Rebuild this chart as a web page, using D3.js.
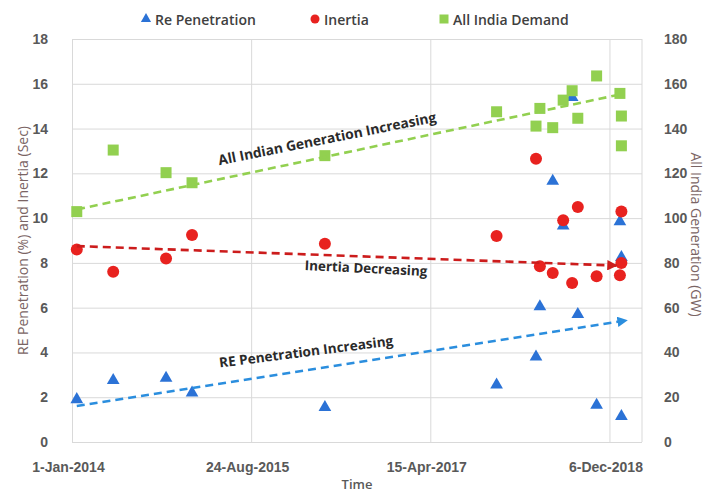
<!DOCTYPE html>
<html>
<head>
<meta charset="utf-8">
<script src="https://cdn.jsdelivr.net/npm/d3@7"></script>
<style>
  html, body { margin: 0; padding: 0; background: #ffffff; }
  svg { display: block; font-family: "Open Sans", "Noto Sans", sans-serif; }
</style>
</head>
<body>
<svg id="chart" width="707" height="494"></svg>
<script>
// Observation dates (one entry per sample)
const obsDates = [
  "2014-01-17", "2014-05-19", "2014-11-12", "2015-02-07", "2016-04-27",
  "2017-11-23", "2018-04-04", "2018-04-17", "2018-05-30", "2018-07-04",
  "2018-08-03", "2018-08-22", "2018-10-24", "2019-01-10", "2019-01-15",
  "2019-01-15"
];
// RE penetration (%) — left axis
const rePenetration = [1.9, 2.75, 2.85, 2.2, 1.55, 2.55, 3.8, 6.05, 11.65, 9.65, 15.4, 5.7, 1.65, 9.85, 8.25, 1.15];
// Inertia (sec) — left axis
const inertia = [8.6, 7.6, 8.2, 9.25, 8.85, 9.2, 12.65, 7.85, 7.55, 9.9, 7.1, 10.5, 7.4, 7.45, 8.0, 10.3];
// All India demand (GW) — right axis
const indiaDemand = [102.9, 130.4, 120.3, 115.8, 127.9, 147.5, 141.1, 149.0, 140.4, 152.7, 156.9, 144.6, 163.5, 155.7, 145.6, 132.3];

// Trend arrows: [start, end] as date/value pairs
const demandTrend  = [["2014-01-18", 103.9], ["2018-12-30", 154.9]];
const inertiaTrend = [["2014-01-17", 8.75], ["2018-12-30", 7.88]];
const reTrend      = [["2014-01-17", 1.61], ["2019-02-02", 5.43]];

// Axis ticks
const xTickDates = ["2014-01-01", "2015-08-24", "2017-04-15", "2018-12-06"];
const xDomain = ["2014-01-01", "2019-03-25"];
const leftTicks = [0, 2, 4, 6, 8, 10, 12, 14, 16, 18];
const rightTicks = [0, 20, 40, 60, 80, 100, 120, 140, 160, 180];

const seriesNames = ["Re Penetration", "Inertia", "All India Demand"];

const parse = d3.utcParse("%Y-%m-%d");
const W = 707, H = 494;
const m = { top: 39, right: 65, bottom: 52, left: 72 };
const iw = W - m.left - m.right, ih = H - m.top - m.bottom;

const colors = {
  re: "#2b72d6", reLine: "#2b8ede",
  inertia: "#e8221f", inertiaLine: "#cc1c1c",
  demand: "#92d050", demandLine: "#92d050",
  grid: "#d9d9d9", tick: "#595959", title: "#7a6464", note: "#2a2a2a"
};

const svg = d3.select("#chart");
const defs = svg.append("defs");
function arrowMarker(id, color) {
  defs.append("marker")
    .attr("id", id).attr("viewBox", "0 0 10 10")
    .attr("refX", 9).attr("refY", 5)
    .attr("markerWidth", 4).attr("markerHeight", 4)
    .attr("orient", "auto")
    .append("path").attr("d", "M0,0 L10,5 L0,10 z").attr("fill", color);
}
arrowMarker("arrowRed", colors.inertiaLine);
arrowMarker("arrowBlue", colors.reLine);

const g = svg.append("g").attr("transform", `translate(${m.left},${m.top})`);

const x = d3.scaleUtc().domain(xDomain.map(parse)).range([0, iw]);
const yL = d3.scaleLinear().domain([0, 18]).range([ih, 0]);
const yR = d3.scaleLinear().domain([0, 180]).range([ih, 0]);

// Gridlines
g.append("g")
  .call(d3.axisLeft(yL).tickValues(leftTicks).tickSize(-iw).tickFormat(""))
  .call(s => s.select(".domain").remove())
  .call(s => s.selectAll("line").attr("stroke", colors.grid));
g.append("g")
  .attr("transform", `translate(0,${ih})`)
  .call(d3.axisBottom(x).tickValues(xTickDates.map(parse)).tickSize(-ih).tickFormat(""))
  .call(s => s.select(".domain").remove())
  .call(s => s.selectAll("line").attr("stroke", colors.grid));
// plot frame (right edge)
g.append("line").attr("x1", iw).attr("x2", iw).attr("y1", 0).attr("y2", ih).attr("stroke", colors.grid);

// Axes with labels
function styleTicks(s) {
  s.select(".domain").remove();
  s.selectAll("line").remove();
  s.selectAll("text")
    .attr("fill", colors.tick)
    .attr("font-size", 14)
    .attr("font-weight", 600);
}
g.append("g").call(d3.axisLeft(yL).tickValues(leftTicks).tickPadding(18)).call(styleTicks);
g.append("g").attr("transform", `translate(${iw},0)`)
  .call(d3.axisRight(yR).tickValues(rightTicks).tickPadding(16)).call(styleTicks);
g.append("g").attr("transform", `translate(0,${ih})`)
  .call(d3.axisBottom(x).tickValues(xTickDates.map(parse)).tickPadding(14)
    .tickFormat(d3.utcFormat("%-d-%b-%Y")))
  .call(styleTicks)
  .call(s => s.selectAll("text").attr("dx", "-4"));

// Axis titles
svg.append("text")
  .attr("transform", `translate(22,${m.top + ih / 2}) rotate(-90)`)
  .attr("text-anchor", "middle").attr("dominant-baseline", "central")
  .attr("font-size", 14).attr("fill", colors.title)
  .text("RE Penetration (%) and Inertia (Sec)");
svg.append("text")
  .attr("transform", `translate(696,${m.top + ih / 2 - 6}) rotate(90)`)
  .attr("text-anchor", "middle").attr("dominant-baseline", "central")
  .attr("font-size", 14).attr("fill", colors.title)
  .text("All India Generation  (GW)");
svg.append("text")
  .attr("x", 357).attr("y", 489)
  .attr("text-anchor", "middle")
  .attr("font-size", 13).attr("font-weight", 600).attr("fill", colors.tick)
  .text("Time");

// Data points
const rows = obsDates.map((d, i) => ({
  date: parse(d), re: rePenetration[i], inertia: inertia[i], demand: indiaDemand[i]
}));

const tri = d3.symbol().type(d3.symbolTriangle).size(70);
g.append("g").selectAll("path").data(rows).join("path")
  .attr("d", tri)
  .attr("transform", d => `translate(${x(d.date)},${yL(d.re)})`)
  .attr("fill", colors.re);

g.append("g").selectAll("circle").data(rows).join("circle")
  .attr("cx", d => x(d.date)).attr("cy", d => yL(d.inertia))
  .attr("r", 6)
  .attr("fill", colors.inertia);

const sq = 11;
g.append("g").selectAll("rect").data(rows).join("rect")
  .attr("x", d => x(d.date) - sq / 2).attr("y", d => yR(d.demand) - sq / 2)
  .attr("width", sq).attr("height", sq)
  .attr("fill", colors.demand);

// Trend lines
function trend(pts, scale, color, marker) {
  const line = d3.line().x(p => x(parse(p[0]))).y(p => scale(p[1]));
  const p = g.append("path")
    .attr("d", line(pts))
    .attr("fill", "none")
    .attr("stroke", color)
    .attr("stroke-width", 2.6)
    .attr("stroke-dasharray", "8,5");
  if (marker) p.attr("marker-end", `url(#${marker})`);
}
trend(demandTrend, yR, colors.demandLine, null);
trend(inertiaTrend, yL, colors.inertiaLine, "arrowRed");
trend(reTrend, yL, colors.reLine, "arrowBlue");

// Trend annotations
function note(txt, cx, cy, angle, size) {
  svg.append("text")
    .attr("transform", `translate(${cx},${cy}) rotate(${angle})`)
    .attr("text-anchor", "middle").attr("dominant-baseline", "central")
    .attr("font-size", size).attr("font-weight", 700).attr("fill", colors.note)
    .text(txt);
}
note("All Indian Generation  Increasing", 327, 138, -11.3, 13.8);
note("Inertia Decreasing", 366, 268, 2.8, 13.4);
note("RE Penetration  Increasing", 306, 351, -7.3, 13.6);

// Legend
const legend = svg.append("g").attr("transform", "translate(0,19)");
const legendItems = [
  { name: seriesNames[0], x: 146, kind: "tri", color: colors.re },
  { name: seriesNames[1], x: 315, kind: "circle", color: colors.inertia },
  { name: seriesNames[2], x: 444, kind: "rect", color: colors.demand }
];
legendItems.forEach(it => {
  if (it.kind === "tri") {
    legend.append("path").attr("d", d3.symbol().type(d3.symbolTriangle).size(45)())
      .attr("transform", `translate(${it.x},0)`).attr("fill", it.color);
  } else if (it.kind === "circle") {
    legend.append("circle").attr("cx", it.x).attr("cy", 0).attr("r", 4.5).attr("fill", it.color);
  } else {
    legend.append("rect").attr("x", it.x - 4.5).attr("y", -4.5).attr("width", 9).attr("height", 9).attr("fill", it.color);
  }
  legend.append("text")
    .attr("x", it.x + 9).attr("y", 0)
    .attr("dominant-baseline", "central")
    .attr("font-size", 14).attr("font-weight", 600).attr("fill", "#404040")
    .text(it.name);
});
</script>
</body>
</html>
